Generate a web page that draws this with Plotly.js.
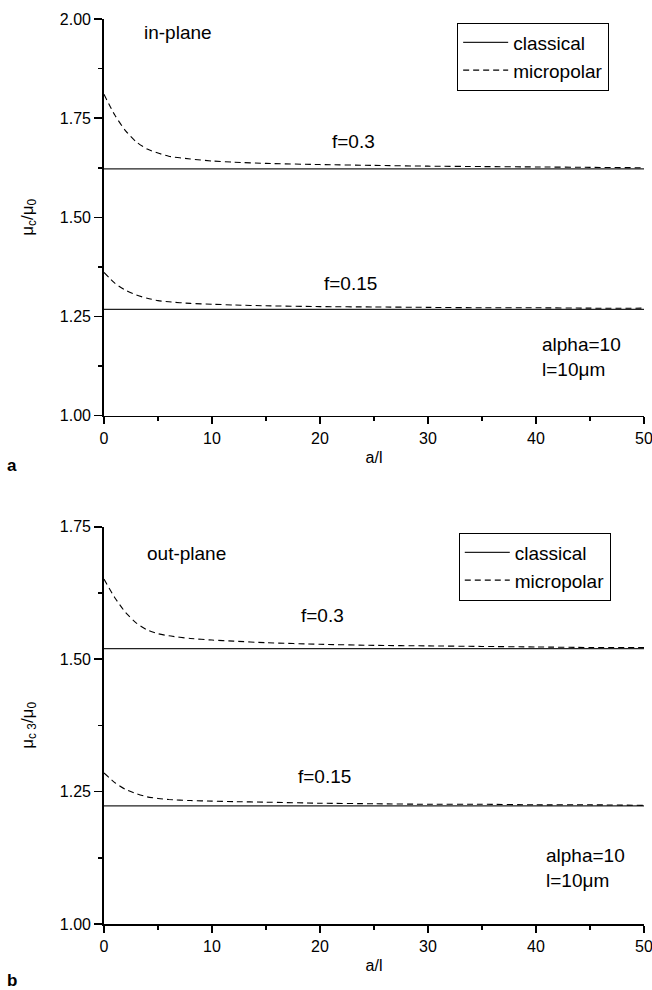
<!DOCTYPE html>
<html>
<head>
<meta charset="utf-8">
<script src="https://cdn.plot.ly/plotly-3.0.1.min.js"></script>
<style>
  html, body { margin: 0; padding: 0; background: #fff; }
  #chart { width: 652px; height: 990px; }
</style>
</head>
<body>
<div id="chart"></div>
<script>
// Normalised shear modulus vs. a/l, classical and micropolar models
const aL = [0, 1, 2, 3, 4, 5, 6, 8, 10, 12, 15, 20, 25, 30, 35, 40, 45, 50];
const classicalX = [0, 50];

// (a) in-plane
const inClassical03 = [1.622, 1.622];
const inClassical015 = [1.268, 1.268];
const inMicro03 = [1.810, 1.758, 1.718, 1.690, 1.672, 1.662, 1.654, 1.647, 1.642, 1.639, 1.636, 1.633, 1.631, 1.629, 1.628, 1.627, 1.626, 1.625];
const inMicro015 = [1.361, 1.334, 1.316, 1.304, 1.296, 1.290, 1.287, 1.283, 1.281, 1.279, 1.277, 1.275, 1.274, 1.273, 1.272, 1.272, 1.271, 1.271];

// (b) out-plane
const outClassical03 = [1.520, 1.520];
const outClassical015 = [1.223, 1.223];
const outMicro03 = [1.651, 1.616, 1.588, 1.568, 1.555, 1.548, 1.544, 1.539, 1.536, 1.534, 1.531, 1.528, 1.526, 1.525, 1.524, 1.523, 1.522, 1.522];
const outMicro015 = [1.285, 1.267, 1.254, 1.246, 1.240, 1.237, 1.235, 1.233, 1.232, 1.231, 1.230, 1.228, 1.227, 1.226, 1.226, 1.225, 1.225, 1.224];

const xTicks = [0, 10, 20, 30, 40, 50];
const yTicksA = [1.00, 1.25, 1.50, 1.75, 2.00];
const yTicksB = [1.00, 1.25, 1.50, 1.75];

const FONT = 'Liberation Sans, Arial, sans-serif';
const solidLine = { color: '#222', width: 1.3 };
const dashLine = { color: '#000', width: 1.1, dash: '6px,4px', shape: 'spline', smoothing: 0.6 };

function classical(y, xa, ya, leg, show) {
  return { x: classicalX, y: y, xaxis: xa, yaxis: ya, mode: 'lines', name: 'classical',
           line: solidLine, legend: leg, showlegend: show, hoverinfo: 'skip' };
}
function micro(y, xa, ya, leg, show) {
  return { x: aL, y: y, xaxis: xa, yaxis: ya, mode: 'lines', name: 'micropolar',
           line: dashLine, legend: leg, showlegend: show, hoverinfo: 'skip' };
}

const traces = [
  classical(inClassical03, 'x', 'y', 'legend', true),
  micro(inMicro03, 'x', 'y', 'legend', true),
  classical(inClassical015, 'x', 'y', 'legend', false),
  micro(inMicro015, 'x', 'y', 'legend', false),
  classical(outClassical03, 'x2', 'y2', 'legend2', true),
  micro(outMicro03, 'x2', 'y2', 'legend2', true),
  classical(outClassical015, 'x2', 'y2', 'legend2', false),
  micro(outMicro015, 'x2', 'y2', 'legend2', false)
];

function xAxis(anchor) {
  return {
    anchor: anchor, domain: [0, 1], range: [0, 50],
    tickmode: 'array', tickvals: xTicks, ticktext: xTicks.map(String),
    ticks: 'outside', ticklen: 7, tickwidth: 1.6, tickcolor: '#000',
    ticklabeloverflow: 'allow',
    minor: { dtick: 5, tick0: 0, ticks: 'outside', ticklen: 4, tickwidth: 1.6, tickcolor: '#000' },
    showline: true, linecolor: '#000', linewidth: 1.8, showgrid: false, zeroline: false,
    tickfont: { family: FONT, size: 16, color: '#000' },
    title: { text: 'a/l', font: { family: FONT, size: 16, color: '#000' }, standoff: 6 }
  };
}
function yAxis(anchor, domain, range, ticks, title) {
  return {
    anchor: anchor, domain: domain, range: range,
    tickmode: 'array', tickvals: ticks, ticktext: ticks.map(v => v.toFixed(2)),
    ticks: 'outside', ticklen: 8, tickwidth: 1.6, tickcolor: '#000',
    minor: { dtick: 0.125, tick0: 1, ticks: 'outside', ticklen: 4, tickwidth: 1.6, tickcolor: '#000' },
    showline: true, linecolor: '#000', linewidth: 1.8, showgrid: false, zeroline: false,
    tickfont: { family: FONT, size: 16, color: '#000' },
    title: { text: title, font: { family: FONT, size: 17, color: '#000' }, standoff: 22 }
  };
}

function note(text, x, y, xa, ya, xanchor, size) {
  return { text: text, x: x, y: y, xref: xa, yref: ya, showarrow: false,
           xanchor: xanchor || 'center', yanchor: 'middle', align: 'left',
           font: { family: FONT, size: size || 19, color: '#000' } };
}

const legendStyle = {
  xanchor: 'left', yanchor: 'top', bgcolor: '#fff',
  bordercolor: '#000', borderwidth: 1,
  font: { family: FONT, size: 19, color: '#000' },
  itemwidth: 45,
  tracegroupgap: 0
};

const layout = {
  width: 652, height: 990,
  margin: { l: 104, r: 8, t: 19, b: 66 },
  paper_bgcolor: '#fff', plot_bgcolor: '#fff',
  showlegend: true,
  xaxis: xAxis('y'),
  yaxis: yAxis('x', [0.5617, 1.0], [1.0, 2.0], yTicksA, 'μ<sub>c</sub>/μ<sub>0</sub>'),
  xaxis2: xAxis('y2'),
  yaxis2: yAxis('x2', [0, 0.439], [1.0, 1.75], yTicksB, 'μ<sub>c 3</sub>/μ<sub>0</sub>'),
  legend: Object.assign({ x: 0.654, y: 0.996 }, legendStyle),
  legend2: Object.assign({ x: 0.657, y: 0.4325 }, legendStyle),
  annotations: [
    note('in-plane', 3.5, 1.965, 'x', 'y', 'left'),
    note('f=0.3', 23.1, 1.690, 'x', 'y'),
    note('f=0.15', 22.8, 1.334, 'x', 'y'),
    note('alpha=10<br>l=10μm', 40.4, 1.149, 'x', 'y', 'left'),
    note('out-plane', 3.8, 1.700, 'x2', 'y2', 'left'),
    note('f=0.3', 20.2, 1.583, 'x2', 'y2'),
    note('f=0.15', 20.4, 1.278, 'x2', 'y2'),
    note('alpha=10<br>l=10μm', 40.7, 1.105, 'x2', 'y2', 'left'),
    note('<b>a</b>', -0.170, 0.507, 'paper', 'paper', 'center', 17),
    note('<b>b</b>', -0.170, -0.062, 'paper', 'paper', 'center', 17)
  ]
};

Plotly.newPlot('chart', traces, layout, { staticPlot: true, displayModeBar: false });
</script>
</body>
</html>
